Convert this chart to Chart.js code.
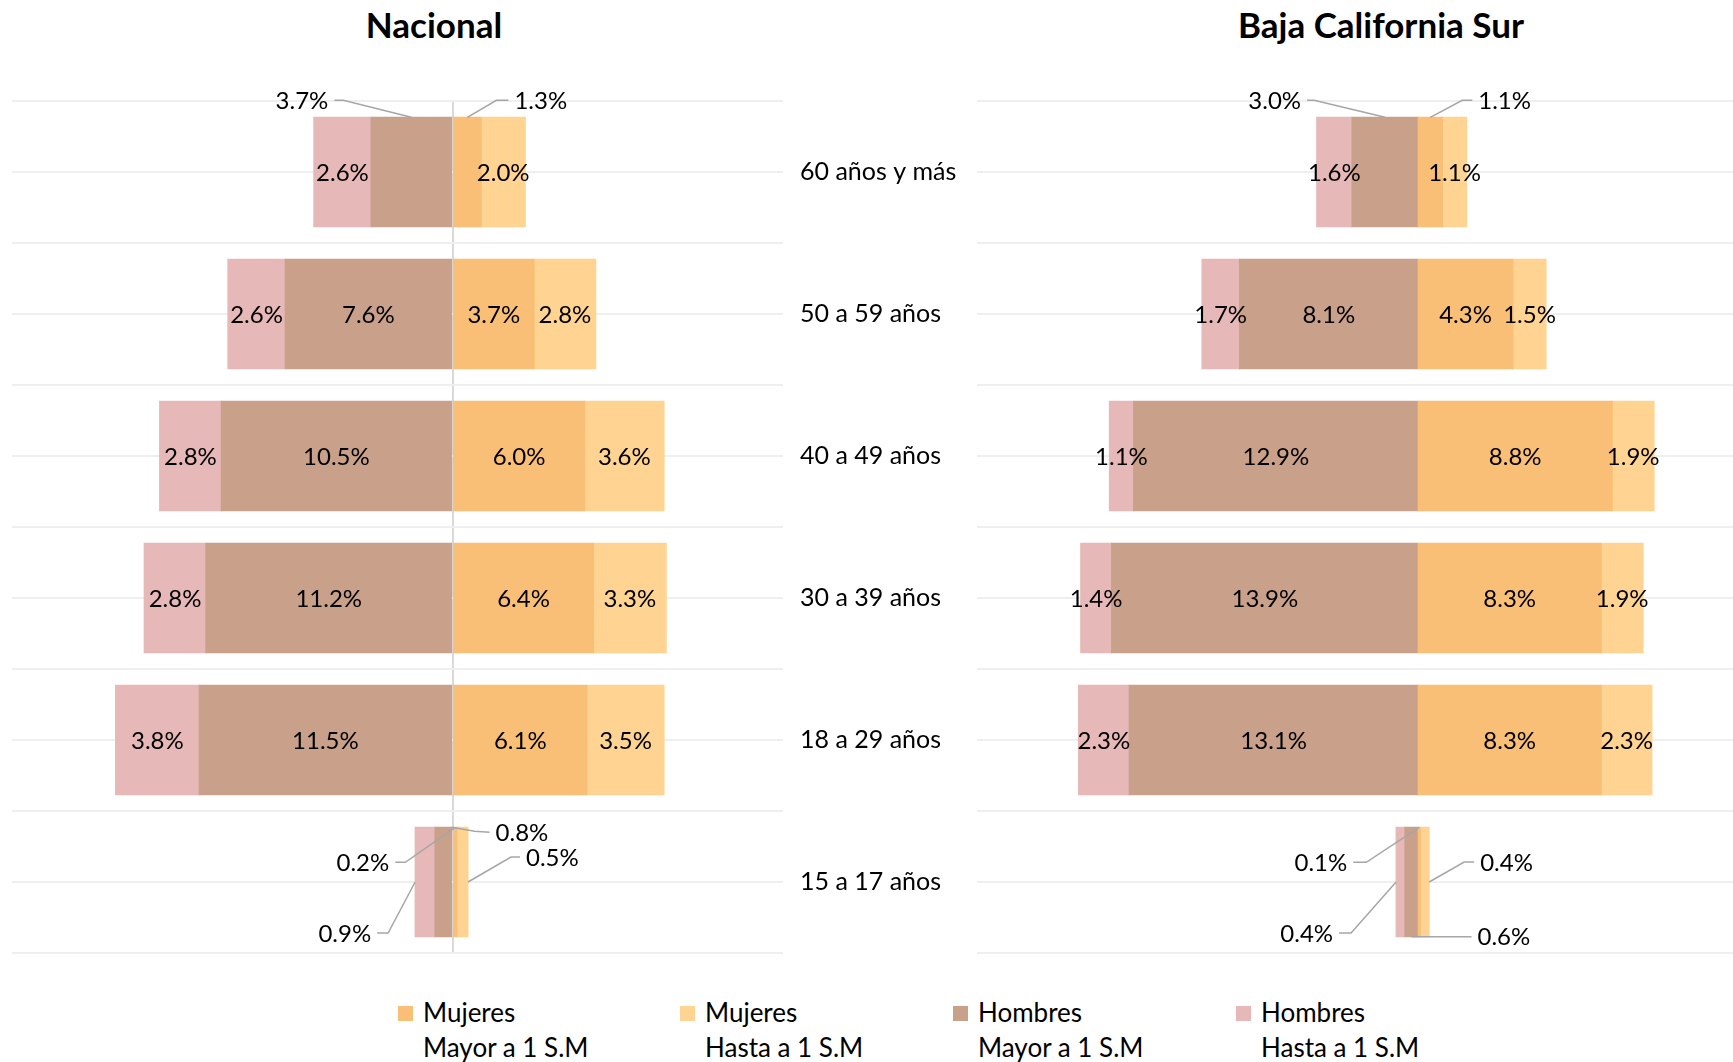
<!DOCTYPE html>
<html>
<head>
<meta charset="utf-8">
<script src="https://cdn.jsdelivr.net/npm/chart.js@4.4.1/dist/chart.umd.min.js"></script>
<style>
  html, body { margin: 0; padding: 0; background: #fff; }
  body { width: 1733px; height: 1062px; overflow: hidden; position: relative; font-family: Lato, 'Noto Sans', sans-serif; color: #000; }
  canvas { position: absolute; top: 0; }
  #cNac { left: 0; }
  #cBcs { left: 962px; }
  .title { position: absolute; top: 3px; line-height: 42px; font-weight: bold; font-size: 35px; transform: translateX(-50%); white-space: nowrap; }
  .leg { position: absolute; top: 995px; font-size: 26px; line-height: 35px; white-space: nowrap; }
  .leg i { position: absolute; left: -25px; top: 11px; width: 15px; height: 15px; }
</style>
</head>
<body>
<div class="title" style="left:434px">Nacional</div>
<div class="title" style="left:1381px">Baja California Sur</div>
<canvas id="cNac" width="968" height="960"></canvas>
<canvas id="cBcs" width="787" height="960"></canvas>
<div id="legend"></div>
<script>
const categories = ['60 años y más', '50 a 59 años', '40 a 49 años', '30 a 39 años', '18 a 29 años', '15 a 17 años'];
const seriesNames = [['Mujeres', 'Mayor a 1 S.M'], ['Mujeres', 'Hasta a 1 S.M'], ['Hombres', 'Mayor a 1 S.M'], ['Hombres', 'Hasta a 1 S.M']];
const seriesColors = ['#f9bf76', '#ffd391', '#c9a08a', '#e6b8b7'];

// Nacional (%)
const nacMujMayor = [1.3, 3.7, 6.0, 6.4, 6.1, 0.2];
const nacMujHasta = [2.0, 2.8, 3.6, 3.3, 3.5, 0.5];
const nacHomMayor = [3.7, 7.6, 10.5, 11.2, 11.5, 0.8];
const nacHomHasta = [2.6, 2.6, 2.8, 2.8, 3.8, 0.9];

// Baja California Sur (%)
const bcsMujMayor = [1.1, 4.3, 8.8, 8.3, 8.3, 0.1];
const bcsMujHasta = [1.1, 1.5, 1.9, 1.9, 2.3, 0.4];
const bcsHomMayor = [3.0, 8.1, 12.9, 13.9, 13.1, 0.6];
const bcsHomHasta = [1.6, 1.7, 1.1, 1.4, 2.3, 0.4];

const xMin = -20, xMax = 15;

// labels drawn outside the bar with a leader line: ds = dataset, i = category
const nacCallouts = [
  { ds: 2, i: 0, at: 'top', elbow: [-68, -17], end: [-77, -17] },
  { ds: 0, i: 0, at: 'top', elbow: [29, -17], end: [41, -17] },
  { ds: 0, i: 5, at: 'top', elbow: [-50, 35], end: [-60, 35] },
  { ds: 2, i: 5, at: 'topEnd', elbow: [23, 4], end: [38, 5] },
  { ds: 1, i: 5, at: 'right', elbow: [43, -25], end: [52, -25] },
  { ds: 3, i: 5, at: 'left', elbow: [-27, 51], end: [-38, 51] }
];
const bcsCallouts = [
  { ds: 2, i: 0, at: 'top', elbow: [-71, -17], end: [-78, -17] },
  { ds: 0, i: 0, at: 'top', elbow: [32, -17], end: [42, -17] },
  { ds: 0, i: 5, at: 'top', elbow: [-53, 35], end: [-66, 35] },
  { ds: 3, i: 5, at: 'left', elbow: [-45, 51], end: [-57, 51] },
  { ds: 1, i: 5, at: 'right', elbow: [35, -20], end: [45, -20] },
  { ds: 2, i: 5, at: 'bottom', elbow: [10, 0], end: [60, 0] }
];

const barLabels = {
  id: 'barLabels',
  afterDatasetsDraw(chart, args, opts) {
    const ctx = chart.ctx;
    ctx.save();
    ctx.font = '24px Lato';
    ctx.fillStyle = '#000';
    ctx.textBaseline = 'middle';
    chart.data.datasets.forEach((ds, di) => {
      const meta = chart.getDatasetMeta(di);
      meta.data.forEach((bar, i) => {
        const text = Math.abs(ds.data[i]).toFixed(1) + '%';
        const p = bar.getProps(['x', 'y', 'base', 'height'], true);
        const left = Math.min(p.x, p.base), right = Math.max(p.x, p.base);
        const co = (opts.callouts || []).find(c => c.ds === di && c.i === i);
        if (!co) {
          ctx.textAlign = 'center';
          ctx.fillText(text, (left + right) / 2, p.y + 1);
          return;
        }
        let ax = (left + right) / 2, ay = p.y;
        if (co.at === 'top') ay = p.y - p.height / 2;
        if (co.at === 'topEnd') { ax = right; ay = p.y - p.height / 2; }
        if (co.at === 'bottom') ay = p.y + p.height / 2;
        if (co.at === 'left') ax = left;
        if (co.at === 'right') ax = right;
        ctx.strokeStyle = '#a6a6a6';
        ctx.lineWidth = 1.5;
        ctx.beginPath();
        ctx.moveTo(ax, ay);
        ctx.lineTo(ax + co.elbow[0], ay + co.elbow[1]);
        ctx.lineTo(ax + co.end[0], ay + co.end[1]);
        ctx.stroke();
        const goLeft = co.end[0] < 0;
        ctx.textAlign = goLeft ? 'right' : 'left';
        ctx.fillText(text, ax + co.end[0] + (goLeft ? -6 : 6), ay + co.end[1] + 1);
      });
    });
    ctx.restore();
  }
};

function makeChart(canvasId, mujMayor, mujHasta, homMayor, homHasta, opts) {
  const ctx = document.getElementById(canvasId).getContext('2d');
  const series = [mujMayor, mujHasta, homMayor.map(v => -v), homHasta.map(v => -v)];
  const gridColor = '#efefef';

  return new Chart(ctx, {
    type: 'bar',
    data: {
      labels: categories,
      datasets: series.map((d, k) => ({
        label: seriesNames[k].join(' '),
        data: d,
        backgroundColor: seriesColors[k],
        borderWidth: 0,
        inflateAmount: 0.5,
        barPercentage: 0.77,
        categoryPercentage: 1
      }))
    },
    options: {
      indexAxis: 'y',
      responsive: false,
      animation: false,
      layout: { padding: opts.padding },
      plugins: {
        legend: { display: false },
        tooltip: { enabled: false },
        barLabels: { callouts: opts.callouts }
      },
      scales: {
        x: {
          type: 'linear',
          stacked: true,
          min: xMin,
          max: xMax,
          z: 1,
          ticks: { display: false, stepSize: 5 },
          border: { display: false },
          grid: {
            display: opts.zeroLine,
            drawTicks: false,
            lineWidth: 2,
            color: c => (c.tick && c.tick.value === 0) ? '#d9d9d9' : 'rgba(0,0,0,0)'
          }
        },
        y: {
          stacked: true,
          position: opts.showCats ? 'right' : 'left',
          border: { display: false },
          grid: { offset: true, drawTicks: false, color: gridColor, lineWidth: 2 },
          ticks: {
            display: opts.showCats,
            padding: 17,
            color: '#000',
            font: { family: 'Lato', size: 25 }
          },
          afterFit: s => {
            s.width = opts.showCats ? 185 : 0;
            s.paddingTop = 0;
            s.paddingBottom = 0;
          }
        },
        y2: {
          type: 'category',
          labels: categories,
          offset: true,
          position: 'left',
          border: { display: false },
          grid: { offset: false, drawTicks: false, color: gridColor, lineWidth: 2 },
          ticks: { display: false },
          afterFit: s => { s.width = 0; }
        }
      }
    },
    plugins: [barLabels]
  });
}

makeChart('cNac', nacMujMayor, nacMujHasta, nacHomMayor, nacHomHasta,
  { padding: { left: 12, top: 101, right: 0, bottom: 7 }, showCats: true, zeroLine: true, callouts: nacCallouts });
makeChart('cBcs', bcsMujMayor, bcsMujHasta, bcsHomMayor, bcsHomHasta,
  { padding: { left: 15, top: 101, right: 0, bottom: 7 }, showCats: false, zeroLine: false, callouts: bcsCallouts });

// legend
const legendX = [423, 705, 978, 1261];
const legend = document.getElementById('legend');
seriesNames.forEach((n, k) => {
  const d = document.createElement('div');
  d.className = 'leg';
  d.style.left = legendX[k] + 'px';
  d.innerHTML = '<i style="background:' + seriesColors[k] + '"></i>' + n[0] + '<br>' + n[1];
  legend.appendChild(d);
});
</script>
</body>
</html>
